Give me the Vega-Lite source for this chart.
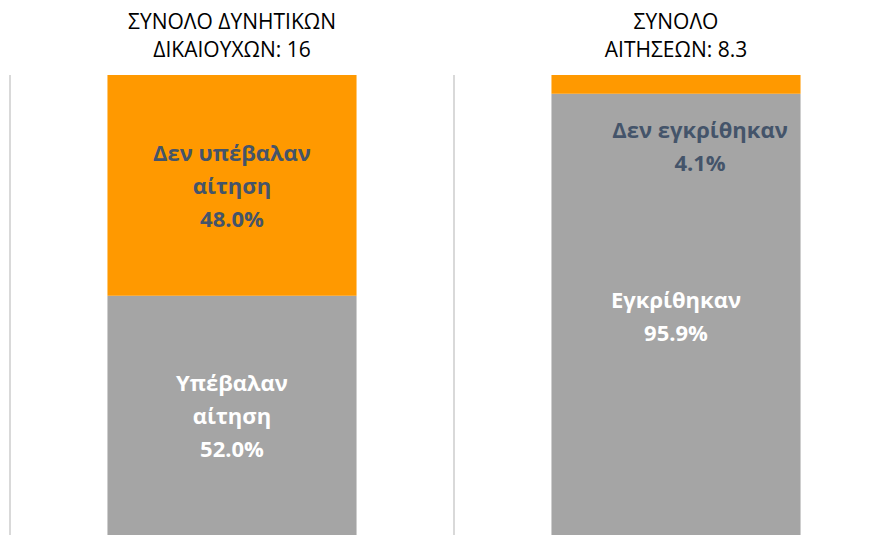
{
  "$schema": "https://vega.github.io/schema/vega-lite/v6.json",
  "width": 888,
  "height": 460,
  "autosize": {"type": "none"},
  "padding": {"top": 75, "left": 10, "right": 0, "bottom": 0},
  "background": "white",
  "config": {"view": {"stroke": null}},
  "data": {
    "values": [
      {"panel": "ΣΥΝΟΛΟ ΔΥΝΗΤΙΚΩΝ|ΔΙΚΑΙΟΥΧΩΝ: 16", "category": "Υπέβαλαν αίτηση", "value": 52.0, "order": 1, "label": "Υπέβαλαν\nαίτηση\n52.0%", "lines": 3},
      {"panel": "ΣΥΝΟΛΟ ΔΥΝΗΤΙΚΩΝ|ΔΙΚΑΙΟΥΧΩΝ: 16", "category": "Δεν υπέβαλαν αίτηση", "value": 48.0, "order": 2, "label": "Δεν υπέβαλαν\nαίτηση\n48.0%", "lines": 3},
      {"panel": "ΣΥΝΟΛΟ|ΑΙΤΗΣΕΩΝ: 8.3", "category": "Εγκρίθηκαν", "value": 95.9, "order": 1, "label": "Εγκρίθηκαν\n95.9%", "lines": 2},
      {"panel": "ΣΥΝΟΛΟ|ΑΙΤΗΣΕΩΝ: 8.3", "category": "Δεν εγκρίθηκαν", "value": 4.1, "order": 2, "label": "Δεν εγκρίθηκαν\n4.1%", "lines": 2}
    ]
  },
  "transform": [
    {"stack": "value", "groupby": ["panel"], "sort": [{"field": "order"}], "as": ["y0", "y1"]},
    {"calculate": "(datum.y0 + datum.y1) / 2", "as": "mid"}
  ],
  "encoding": {
    "x": {
      "field": "panel",
      "type": "nominal",
      "sort": null,
      "scale": {"paddingInner": 0, "paddingOuter": 0},
      "axis": {
        "orient": "top",
        "title": null,
        "domain": false,
        "ticks": false,
        "grid": false,
        "labelAngle": 0,
        "labelExpr": "split(datum.label, '|')",
        "labelFont": "Open Sans",
        "labelFontSize": 21,
        "labelLimit": 400,
        "labelColor": "#000000",
        "labelLineHeight": 28,
        "labelPadding": 43
      }
    }
  },
  "layer": [
    {
      "mark": {"type": "rule", "color": "#d9d9d9", "strokeWidth": 2},
      "encoding": {"x": {"field": "panel", "type": "nominal", "sort": null, "bandPosition": 0}}
    },
    {
      "mark": {"type": "bar", "width": {"band": 0.561}},
      "encoding": {
        "y": {"field": "y0", "type": "quantitative", "scale": {"domain": [0, 100]}, "axis": null},
        "y2": {"field": "y1"},
        "color": {
          "field": "category",
          "type": "nominal",
          "scale": {
            "domain": ["Υπέβαλαν αίτηση", "Δεν υπέβαλαν αίτηση", "Εγκρίθηκαν", "Δεν εγκρίθηκαν"],
            "range": ["#a5a5a5", "#ff9900", "#a5a5a5", "#ff9900"]
          },
          "legend": null
        }
      }
    },
    {
      "transform": [{"filter": "datum.lines === 3"}],
      "mark": {"type": "text", "align": "center", "baseline": "middle", "lineBreak": "\n", "font": "Open Sans", "fontWeight": "bold", "fontSize": 22, "lineHeight": 33, "dy": -31},
      "encoding": {
        "y": {"field": "mid", "type": "quantitative"},
        "text": {"field": "label"},
        "color": {"condition": {"test": "datum.category === 'Δεν υπέβαλαν αίτηση'", "value": "#44546a"}, "value": "#ffffff"}
      }
    },
    {
      "transform": [{"filter": "datum.category === 'Εγκρίθηκαν'"}],
      "mark": {"type": "text", "align": "center", "baseline": "middle", "lineBreak": "\n", "font": "Open Sans", "fontWeight": "bold", "fontSize": 22, "lineHeight": 33, "dy": -13, "color": "#ffffff"},
      "encoding": {
        "y": {"field": "mid", "type": "quantitative"},
        "text": {"field": "label"}
      }
    },
    {
      "transform": [{"filter": "datum.category === 'Δεν εγκρίθηκαν'"}],
      "mark": {"type": "text", "align": "center", "baseline": "middle", "lineBreak": "\n", "font": "Open Sans", "fontWeight": "bold", "fontSize": 22, "lineHeight": 33, "dy": 47, "dx": 24, "color": "#44546a"},
      "encoding": {
        "y": {"field": "mid", "type": "quantitative"},
        "text": {"field": "label"}
      }
    }
  ]
}
